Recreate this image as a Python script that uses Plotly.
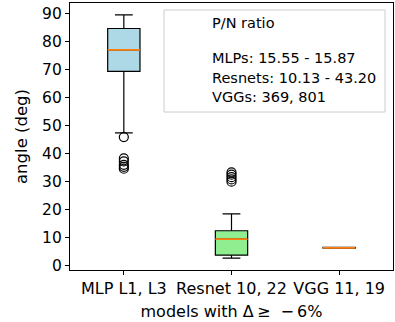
import plotly.graph_objects as go

categories = ["MLP L1, L3", "Resnet 10, 22", "VGG 11, 19"]
positions = [1, 2, 3]
q1 = [69.3, 3.8, 6.25]
medians = [77.0, 9.5, 6.4]
q3 = [84.6, 12.5, 6.6]
lower_whisker = [47.4, 2.75, 6.25]
upper_whisker = [89.5, 18.5, 6.6]
outliers = [
    [45.9, 38.3, 37.2, 36.0, 35.3, 34.6],
    [33.3, 32.5, 31.6, 30.8, 30.0],
    [],
]
fill_colors = ["#add8e6", "#90ee90", "#d3d3d3"]
legend_title = "P/N ratio"
legend_lines = ["MLPs: 15.55 - 15.87", "Resnets: 10.13 - 43.20", "VGGs: 369, 801"]
y_ticks = [0, 10, 20, 30, 40, 50, 60, 70, 80, 90]

BOX_W = 0.3
FONT = "DejaVu Sans"
L, R, T, B = 70, 393, 3, 270
PW, PH = R - L, B - T

fig = go.Figure()
for i in range(3):
    fig.add_trace(go.Box(
        x=[positions[i]], q1=[q1[i]], median=[medians[i]], q3=[q3[i]],
        lowerfence=[lower_whisker[i]], upperfence=[upper_whisker[i]],
        width=BOX_W, whiskerwidth=0.55, fillcolor=fill_colors[i],
        line=dict(color="black", width=1.2), boxpoints=False,
        showlegend=False, hoverinfo="skip",
    ))
    fig.add_trace(go.Scatter(
        x=[positions[i] - BOX_W / 2, positions[i] + BOX_W / 2],
        y=[medians[i], medians[i]], mode="lines",
        line=dict(color="#ff7f0e", width=1.6), showlegend=False, hoverinfo="skip",
    ))
    if outliers[i]:
        fig.add_trace(go.Scatter(
            x=[positions[i]] * len(outliers[i]), y=outliers[i], mode="markers",
            marker=dict(symbol="circle-open", size=9, color="black", line=dict(width=1.2)),
            showlegend=False, hoverinfo="skip",
        ))

fig.add_shape(type="rect", xref="paper", yref="paper",
              x0=(164 - L) / PW, x1=(385 - L) / PW,
              y0=(B - 112) / PH, y1=(B - 10) / PH,
              line=dict(color="#cccccc", width=1), fillcolor="rgba(255,255,255,0.8)")
text_x = (212 - L) / PW
ys_px = [23, 58, 78, 97]
texts = [legend_title] + legend_lines
for t, ypx in zip(texts, ys_px):
    fig.add_annotation(xref="paper", yref="paper", x=text_x, y=(B - ypx) / PH,
                       text=t, showarrow=False, xanchor="left", yanchor="middle",
                       xshift=-2, font=dict(family=FONT, size=14.5, color="black"))

fig.update_layout(
    width=395, height=322,
    margin=dict(l=L, r=395 - R, t=T, b=322 - B, pad=0),
    plot_bgcolor="white", paper_bgcolor="white",
    font=dict(family=FONT, size=16, color="black"),
    xaxis=dict(range=[0.5, 3.5], tickvals=positions, ticktext=categories,
               showline=True, linecolor="black", linewidth=1.2, mirror=True,
               ticks="outside", ticklen=4, tickcolor="black", showgrid=False, zeroline=False,
               automargin=False,
               title=dict(text="models with Δ\u2009≥ \u00a0−\u20096%", standoff=8,
                          font=dict(size=16)),
               tickfont=dict(size=16)),
    yaxis=dict(range=[-1.5, 93.7], tickvals=y_ticks,
               showline=True, linecolor="black", linewidth=1.2, mirror=True,
               ticks="outside", ticklen=4, tickcolor="black", showgrid=False, zeroline=False,
               automargin=False,
               title=dict(text="angle (deg)", standoff=10, font=dict(size=16.5)),
               tickfont=dict(size=15.5)),
)

fig.write_html("out.html", config={"displayModeBar": False},
               post_script="document.body.style.margin='0';document.body.style.padding='0';")
